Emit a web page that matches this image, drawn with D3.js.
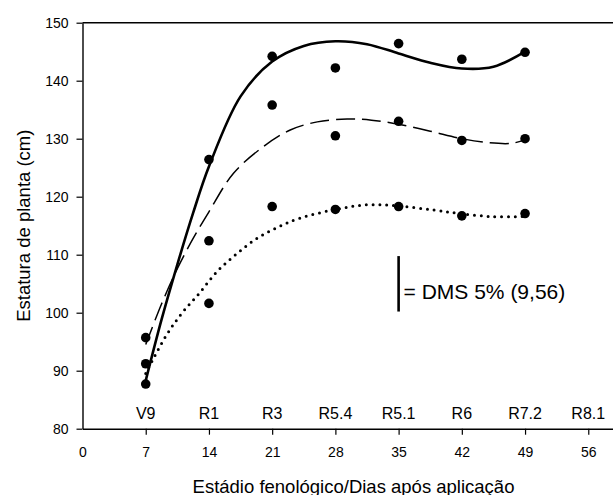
<!DOCTYPE html>
<html>
<head>
<meta charset="utf-8">
<script src="https://cdn.jsdelivr.net/npm/d3@7"></script>
<style>
  html, body { margin: 0; padding: 0; background: #fff; }
  svg { display: block; }
  text { font-family: Arial, "Liberation Sans", Helvetica, sans-serif; fill: #000; }
</style>
</head>
<body>
<svg id="chart" width="613" height="495"></svg>
<script>
// Observed plant heights (cm) at each sampling day
const days = [7, 14, 21, 28, 35, 42, 49];
const heightsA = [87.7, 126.4, 144.2, 142.2, 146.4, 143.7, 144.9];
const heightsB = [95.7, 112.4, 135.8, 130.5, 133.0, 129.7, 130.0];
const heightsC = [91.2, 101.6, 118.3, 117.8, 118.3, 116.7, 117.1];

// Fitted response curves (day, height)
const trendA = [[7, 88.3], [8.75, 98.8], [10.5, 108.3], [12.25, 117.2], [14, 125.2], [17.5, 137.3],
  [21, 143.3], [24.5, 146.0], [28, 146.8], [31.5, 146.3], [35, 144.7], [38.5, 143.1],
  [42, 142.1], [45.5, 142.4], [49, 145.0]];
const trendB = [[7, 94.5], [8.75, 101.5], [10.5, 107.6], [12.25, 112.8], [14, 117.4], [16.7, 124.0],
  [20, 128.6], [23, 131.5], [26, 132.9], [29.3, 133.4], [32, 133.2], [35, 132.5],
  [38.5, 131.3], [42, 130.0], [45, 129.3], [47.5, 129.2], [49, 129.8]];
const trendC = [[7, 89.5], [9.2, 95.9], [11, 99.9], [12.9, 103.3], [14.9, 107.1], [17.1, 110.2],
  [19.3, 112.8], [21.7, 114.8], [24.1, 116.3], [28, 117.8], [31.5, 118.6], [35, 118.4],
  [38.85, 117.7], [41.8, 117.1], [45.5, 116.55], [49, 116.6]];

// Phenological stage at each day
const stageDays = [7, 14, 21, 28, 35, 42, 49, 56];
const stageLabels = ["V9", "R1", "R3", "R5.4", "R5.1", "R6", "R7.2", "R8.1"];

const xTicks = [0, 7, 14, 21, 28, 35, 42, 49, 56];
const yTicks = [80, 90, 100, 110, 120, 130, 140, 150];

// Least significant difference bar
const dmsValue = 9.56;
const dmsDay = 35;
const dmsBase = 100.2;
const dmsLabel = "= DMS 5% (9,56)";

const xTitle = "Estádio fenológico/Dias após aplicação";
const yTitle = "Estatura de planta (cm)";

const svg = d3.select("#chart");

const x = d3.scaleLinear().domain([0, 60]).range([82.5, 624.4]);
const y = d3.scaleLinear().domain([80, 150]).range([428.7, 22.7]);

// Top frame line
svg.append("line")
  .attr("x1", x(0)).attr("x2", x(60))
  .attr("y1", y(150)).attr("y2", y(150))
  .attr("stroke", "#000").attr("stroke-width", 1.4);

// Y axis
const gy = svg.append("g")
  .attr("transform", `translate(${x(0)},0)`)
  .call(d3.axisLeft(y).tickValues(yTicks).tickSize(6).tickSizeOuter(0).tickPadding(8));
gy.select(".domain").attr("stroke-width", 1.4);
gy.selectAll(".tick line").attr("stroke-width", 1.2);
gy.selectAll(".tick text").attr("font-size", 14).attr("font-family", null);

// X axis
const gx = svg.append("g")
  .attr("transform", `translate(0,${y(80)})`)
  .call(d3.axisBottom(x).tickValues(xTicks).tickSize(6).tickSizeOuter(0).tickPadding(12.5));
gx.select(".domain").attr("stroke-width", 1.4);
gx.selectAll(".tick line").attr("stroke-width", 1.2)
  .filter(d => d === 0).remove();
gx.selectAll(".tick text").attr("font-size", 14).attr("font-family", null);

// Stage labels above the x axis
svg.append("g").selectAll("text")
  .data(stageDays)
  .join("text")
  .attr("x", d => x(d))
  .attr("y", 419.3)
  .attr("text-anchor", "middle")
  .attr("font-size", 16)
  .text((d, i) => stageLabels[i]);

// Trend curves
const line = d3.line()
  .x(d => x(d[0]))
  .y(d => y(d[1]))
  .curve(d3.curveCatmullRom.alpha(0.5));

svg.append("path")
  .attr("d", line(trendA))
  .attr("fill", "none").attr("stroke", "#000")
  .attr("stroke-width", 2.6);

svg.append("path")
  .attr("d", line(trendB))
  .attr("fill", "none").attr("stroke", "#000")
  .attr("stroke-width", 1.5)
  .attr("stroke-dasharray", "19 7");

svg.append("path")
  .attr("d", line(trendC))
  .attr("fill", "none").attr("stroke", "#000")
  .attr("stroke-width", 3)
  .attr("stroke-linecap", "round")
  .attr("stroke-dasharray", "0 6.8");

// Observed points
[heightsA, heightsB, heightsC].forEach(vals => {
  svg.append("g").selectAll("circle")
    .data(vals)
    .join("circle")
    .attr("cx", (d, i) => x(days[i]))
    .attr("cy", d => y(d))
    .attr("r", 4.8)
    .attr("fill", "#000");
});

// DMS bar and label
svg.append("line")
  .attr("x1", x(dmsDay)).attr("x2", x(dmsDay))
  .attr("y1", y(dmsBase)).attr("y2", y(dmsBase + dmsValue))
  .attr("stroke", "#000").attr("stroke-width", 2.6);

svg.append("text")
  .attr("x", x(dmsDay) + 5)
  .attr("y", 299)
  .attr("font-size", 21)
  .text(dmsLabel);

// Axis titles
svg.append("text")
  .attr("x", 353.5)
  .attr("y", 492.5)
  .attr("text-anchor", "middle")
  .attr("font-size", 18.5)
  .text(xTitle);

svg.append("text")
  .attr("transform", `translate(30,${(y(80) + y(150)) / 2}) rotate(-90)`)
  .attr("text-anchor", "middle")
  .attr("font-size", 18.5)
  .text(yTitle);
</script>
</body>
</html>
